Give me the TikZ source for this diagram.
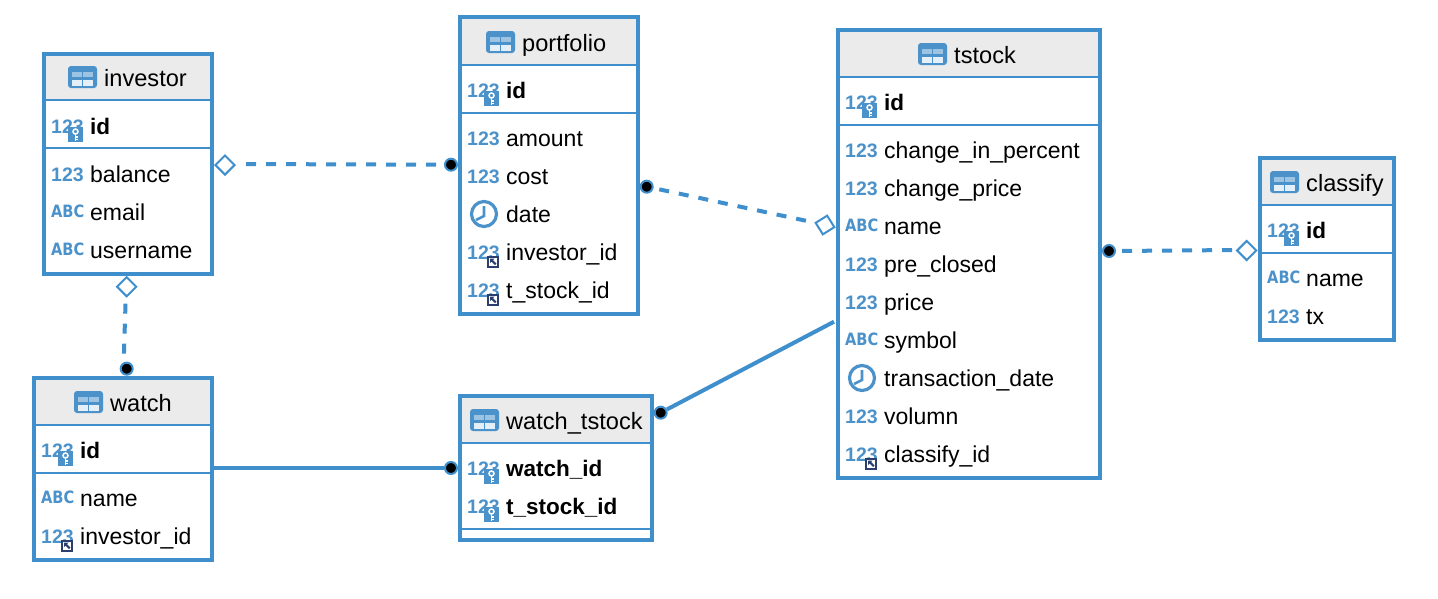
\documentclass[tikz,border=0pt]{standalone}
\usepackage{fontspec}
\setmainfont{Liberation Sans}
\newfontfamily\abcfont{DejaVu Sans}
\usetikzlibrary{shapes.geometric}
\definecolor{erblue}{HTML}{3F8FCD}
\definecolor{iconblue}{HTML}{4B92CB}
\definecolor{headgray}{HTML}{EBEBEB}
\definecolor{fknavy}{HTML}{2B3F6E}
\tikzset{
  x=1pt,y=-1pt,
  tablebox/.style={draw=erblue,line width=4pt,inner sep=0pt,outer sep=0pt},
  sepline/.style={draw=erblue,line width=2pt},
  cell/.style={anchor=base west,inner sep=0pt,font=\fontsize{23}{26}\selectfont,text=black},
  titletext/.style={cell,font=\fontsize{23.6}{26}\selectfont},
  keytext/.style={cell,font=\fontsize{22.5}{26}\selectfont\bfseries},
  numicon/.style={anchor=base west,inner sep=0pt,text=iconblue,font=\fontsize{19.5}{22}\selectfont\bfseries},
  abcicon/.style={anchor=base west,inner sep=0pt,text=iconblue,transform shape,xscale=.86,font=\fontsize{17}{20}\abcfont\bfseries},
  link/.style={draw=erblue,line width=4pt},
  dashlink/.style={link,dash pattern=on 10pt off 10pt},
  optend/.style={diamond,draw=erblue,fill=white,line width=2pt,inner sep=0pt,minimum width=20pt,minimum height=20pt,aspect=1},
  manyend/.style={circle,draw=erblue,fill=black,line width=2pt,inner sep=0pt,minimum size=12pt},
}
\newcounter{rowc}
% #1 name  #2 x1  #3 y1  #4 x2  #5 y2  #6 header bottom  #7 separator  #8 title x  #9 title
\newcommand{\ertable}[9]{%
  \pgfmathsetmacro{\cx}{(#2+#4)/2}\pgfmathsetmacro{\cy}{(#3+#5)/2}%
  \pgfmathsetmacro{\bw}{#4-#2}\pgfmathsetmacro{\bh}{#5-#3}%
  \fill[headgray] (#2,#3) rectangle (#4,#6);
  \node[tablebox,minimum width=\bw pt,minimum height=\bh pt] (#1) at (\cx,\cy) {};
  \draw[sepline] (#2,#6) -- (#4,#6);
  \draw[sepline] (#2,#7) -- (#4,#7);
  \tableicon{#8-36}{#6-23}
  \node[titletext] (#1title) at (#8,#6-14) {#9};
}
\newcommand{\tableicon}[2]{%
  \pgfmathsetmacro{\ix}{#1}\pgfmathsetmacro{\iy}{#2}%
  \begin{scope}[shift={(\ix,\iy)}]
    \fill[iconblue,rounded corners=3pt] (0,-11) rectangle (29,11);
    \fill[white!45!iconblue] (3.7,-4.7) rectangle (13.7,0.3);
    \fill[white!45!iconblue] (15.3,-4.7) rectangle (25.3,0.3);
    \fill[white!85!iconblue] (3.7,3) rectangle (13.7,8.5);
    \fill[white!85!iconblue] (15.3,3) rectangle (25.3,8.5);
  \end{scope}
}
\newcommand{\keybadge}{%
  \fill[iconblue] (17,1) rectangle (32,16);
  \draw[white,line width=1.5pt] (24.5,5.5) circle (2.5pt);
  \draw[white,line width=1.7pt] (24.5,8) -- (24.5,14.5) (24.5,11) -- (27,11) (24.5,13.5) -- (27,13.5);
}
\newcommand{\fkbadge}{%
  \fill[fknavy] (20,3.5) rectangle (32,16);
  \fill[white] (22,5.5) rectangle (30,14);
  \fill[fknavy] (23,6.5) -- (27.5,6.5) -- (26,8) -- (29.5,11.5) -- (28,13) -- (24.5,9.5) -- (23,11) -- cycle;
}
% #1 kind  #2 icon x  #3 text x  #4 row centre y  #5 text
\newcommand{\colrow}[5]{%
  \stepcounter{rowc}%
  \begin{scope}[shift={(#2,#4)}]
    \ifnum#1=1 \node[numicon] (icon\therowc) at (0,7) {123};\fi
    \ifnum#1=2 \node[abcicon] (icon\therowc) at (0,5.5) {ABC};\fi
    \ifnum#1=3 \draw[iconblue,line width=3.2pt] (17,0) circle (12.5pt);
       \draw[iconblue,line width=2.6pt] (17,-8) -- (17,2) -- (9,6);
    \fi
    \ifnum#1=4 \node[numicon] (icon\therowc) at (0,7) {123};\keybadge\fi
    \ifnum#1=5 \node[numicon] (icon\therowc) at (0,7) {123};\fkbadge\fi
  \end{scope}
  \ifnum#1=4
    \node[keytext] (col\therowc) at (#3,#4+8) {#5};
  \else
    \node[cell] (col\therowc) at (#3,#4+8) {#5};
  \fi
}
\begin{document}
\begin{tikzpicture}
\useasboundingbox (0,0) rectangle (1438,598);
\fill[white] (0,0) rectangle (1438,598);

\ertable{investor}{44}{54}{212}{274}{100}{148}{104}{investor}
\colrow{4}{51}{90}{126}{id}
\colrow{1}{51}{90}{174}{balance}
\colrow{2}{51}{90}{212}{email}
\colrow{2}{51}{90}{250}{username}

\ertable{portfolio}{460}{17}{638}{314}{65}{113}{522}{portfolio}
\colrow{4}{467}{506}{90}{id}
\colrow{1}{467}{506}{138}{amount}
\colrow{1}{467}{506}{176}{cost}
\colrow{3}{467}{506}{214}{date}
\colrow{5}{467}{506}{252}{investor\_id}
\colrow{5}{467}{506}{290}{t\_stock\_id}

\ertable{tstock}{838}{30}{1100}{478}{77}{125}{954}{tstock}
\colrow{4}{845}{884}{102}{id}
\colrow{1}{845}{884}{150}{change\_in\_percent}
\colrow{1}{845}{884}{188}{change\_price}
\colrow{2}{845}{884}{226}{name}
\colrow{1}{845}{884}{264}{pre\_closed}
\colrow{1}{845}{884}{302}{price}
\colrow{2}{845}{884}{340}{symbol}
\colrow{3}{845}{884}{378}{transaction\_date}
\colrow{1}{845}{884}{416}{volumn}
\colrow{5}{845}{884}{454}{classify\_id}

\ertable{classify}{1260}{158}{1394}{340}{205}{253}{1306}{classify}
\colrow{4}{1267}{1306}{230}{id}
\colrow{2}{1267}{1306}{278}{name}
\colrow{1}{1267}{1306}{316}{tx}

\ertable{watch}{34}{378}{212}{560}{425}{473}{110}{watch}
\colrow{4}{41}{80}{450}{id}
\colrow{2}{41}{80}{498}{name}
\colrow{5}{41}{80}{536}{investor\_id}

\ertable{watchtstock}{460}{396}{652}{540}{443}{529}{506}{watch\_tstock}
\colrow{4}{467}{506}{468}{watch\_id}
\colrow{4}{467}{506}{506}{t\_stock\_id}

% connector ends
\node[optend] (d1) at (225,165) {};
\node[manyend] (m1) at (451,164.7) {};
\node[manyend] (m2) at (646.7,186.7) {};
\node[optend,rotate=-13] (d2) at (825,225) {};
\node[manyend] (m3) at (1109,251) {};
\node[optend] (d3) at (1246.7,250.5) {};
\node[optend] (d4) at (126.7,286.7) {};
\node[manyend] (m4) at (126.7,368.7) {};
\node[manyend] (m5) at (451,468) {};
\node[manyend] (m6) at (660.7,412.7) {};
\coordinate (w1) at (watch.east |- m5);
\coordinate (t1) at (834,321.7);

\draw[dashlink,dash phase=10pt] ([yshift=1pt]d1.east) -- (m1.west);
\draw[dashlink,dash phase=14pt] (m2) ++(6.7,1.4) -- (d2.west);
\draw[dashlink,dash phase=14pt] (m3.east) -- ([yshift=0.5pt]d3.west);
\draw[dashlink,dash phase=14pt] ([xshift=-1pt]d4.south) -- ([xshift=-3pt]m4.north);
\draw[link] (w1) -- (m5);
\draw[link] (m6) -- (t1);
\end{tikzpicture}
\end{document}
